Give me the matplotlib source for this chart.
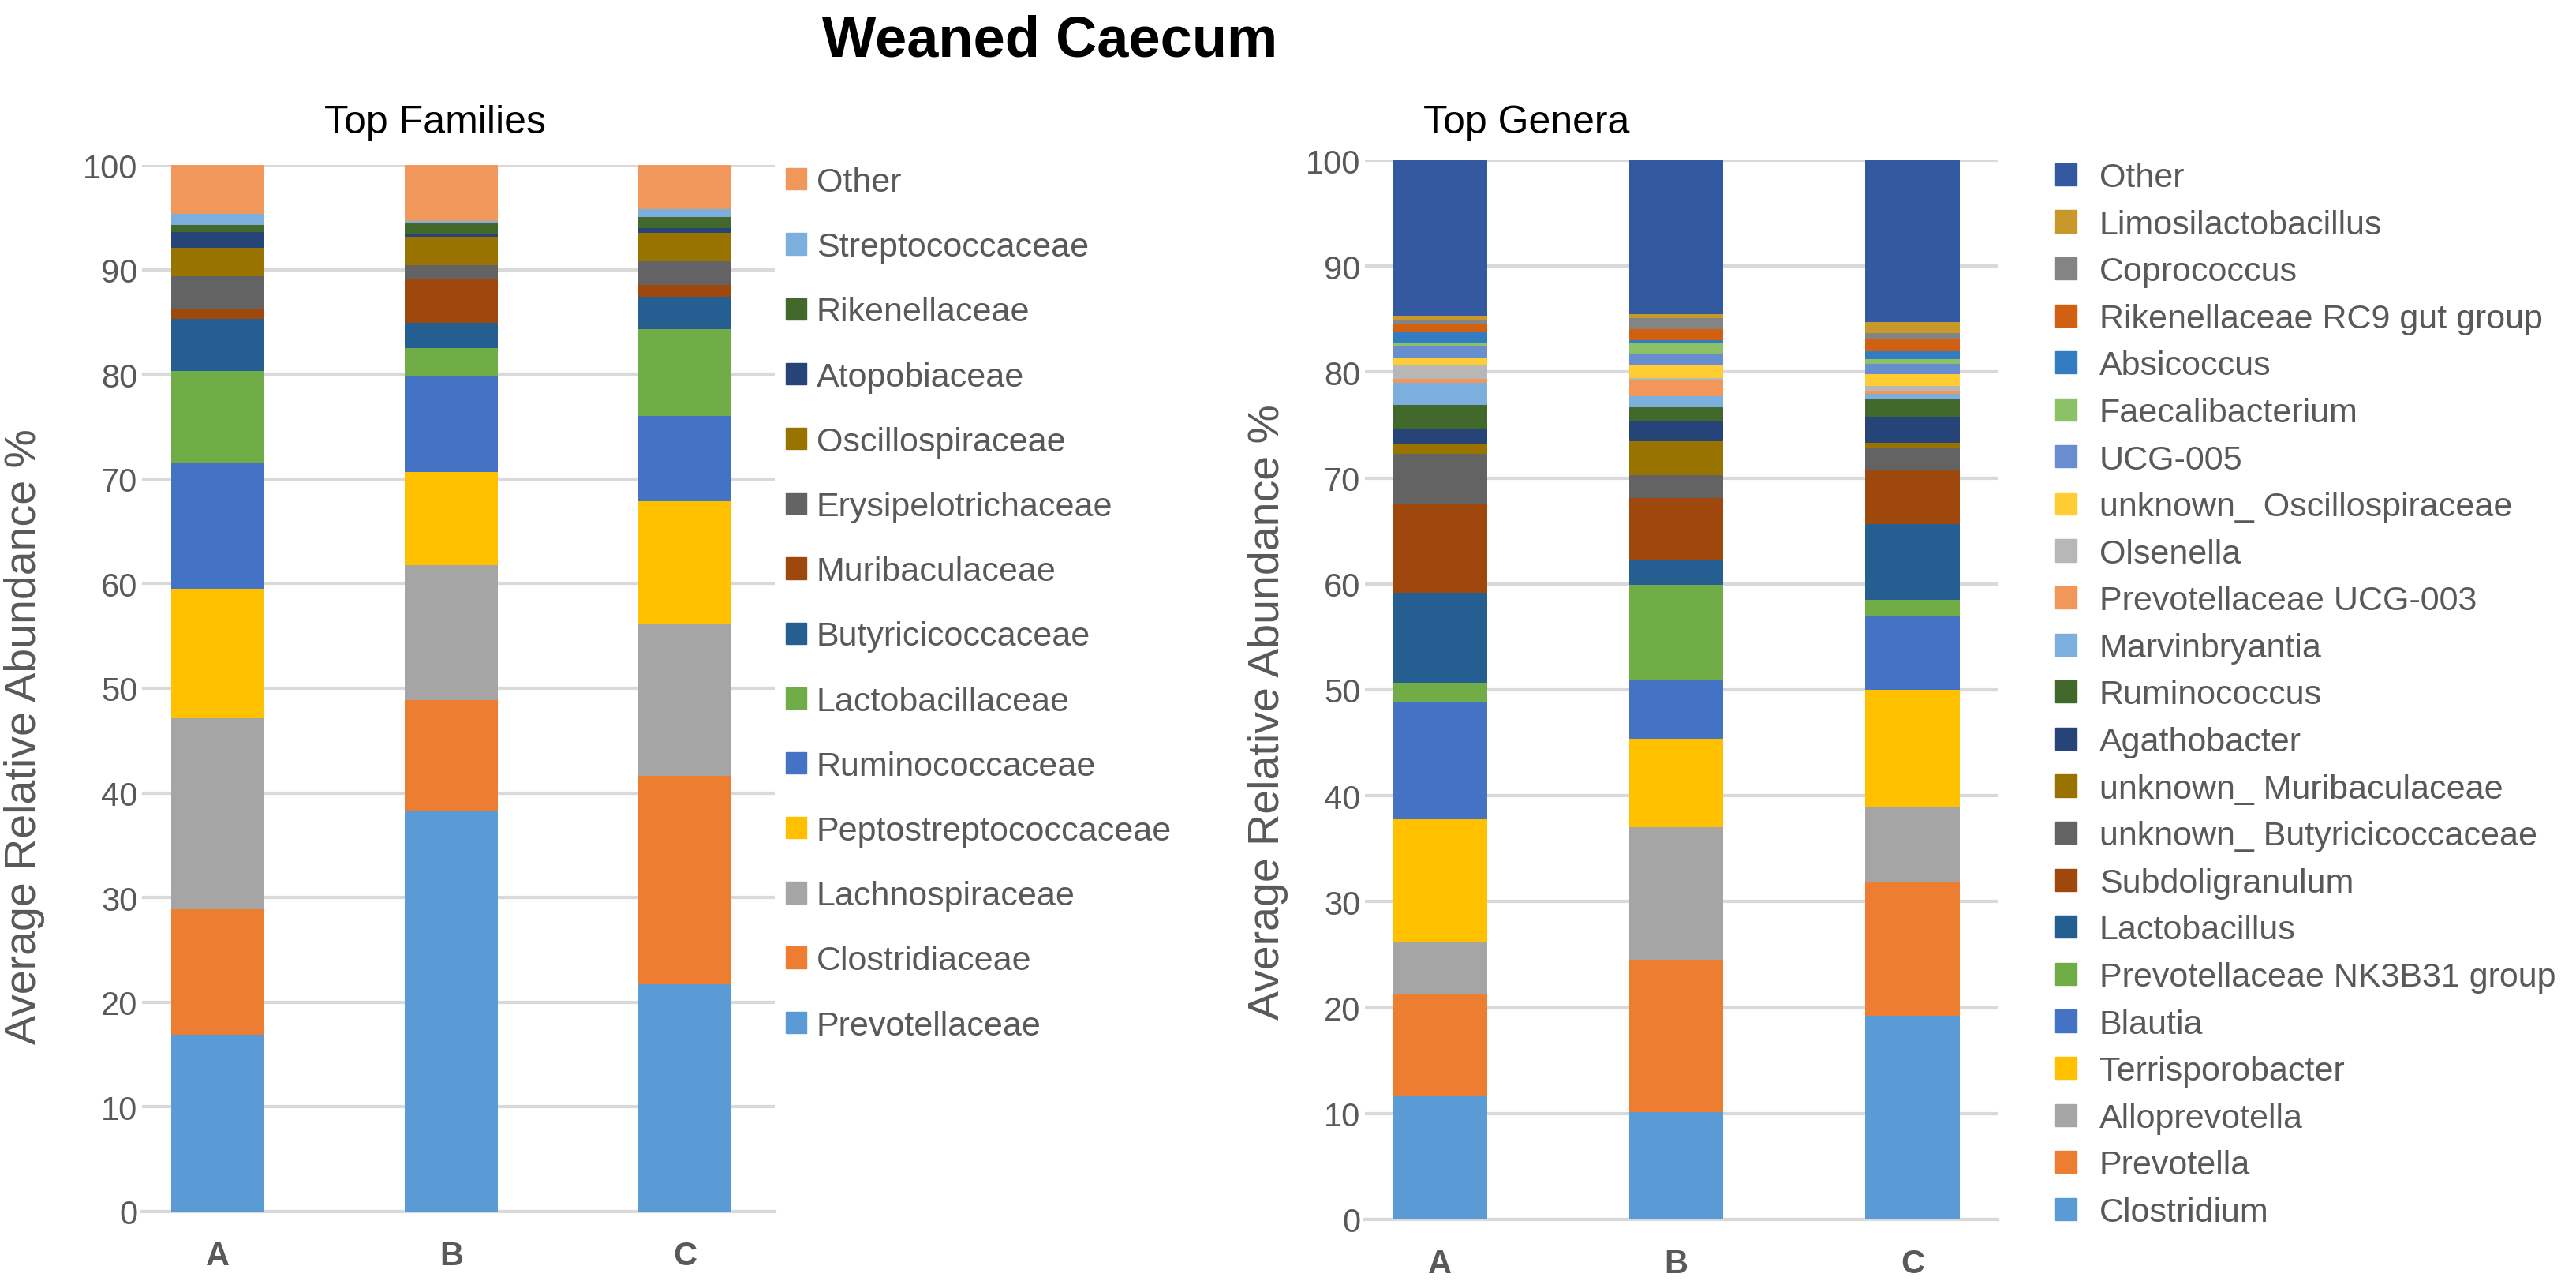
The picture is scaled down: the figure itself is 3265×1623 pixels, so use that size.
import numpy as np
import matplotlib.pyplot as plt
from matplotlib.patches import Patch

plt.rcParams['font.family'] = ['Liberation Sans', 'DejaVu Sans']

groups = ['A', 'B', 'C']

# Top families, bottom -> top of each bar
families = ['Prevotellaceae', 'Clostridiaceae', 'Lachnospiraceae', 'Peptostreptococcaceae',
            'Ruminococcaceae', 'Lactobacillaceae', 'Butyricicoccaceae', 'Muribaculaceae',
            'Erysipelotrichaceae', 'Oscillospiraceae', 'Atopobiaceae', 'Rikenellaceae',
            'Streptococcaceae', 'Other']
fam_A = [16.9, 12.0, 18.2, 12.4, 12.1, 8.7, 5.0, 1.0, 3.1, 2.7, 1.5, 0.7, 1.0, 4.7]
fam_B = [38.3, 10.6, 12.9, 8.9, 9.2, 2.6, 2.4, 4.2, 1.3, 2.7, 0.25, 1.1, 0.2, 5.35]
fam_C = [21.7, 19.9, 14.5, 11.8, 8.1, 8.3, 3.1, 1.1, 2.3, 2.7, 0.5, 1.0, 0.8, 4.2]
fam_colors = ['#5B9BD5', '#ED7D31', '#A5A5A5', '#FFC000', '#4472C4', '#70AD47', '#255E91',
              '#9E480E', '#636363', '#997300', '#264478', '#43682B', '#7CAFDD', '#F1975A']

# Top genera, bottom -> top of each bar
genera = ['Clostridium', 'Prevotella', 'Alloprevotella', 'Terrisporobacter', 'Blautia',
          'Prevotellaceae NK3B31 group', 'Lactobacillus', 'Subdoligranulum',
          'unknown_ Butyricicoccaceae', 'unknown_ Muribaculaceae', 'Agathobacter',
          'Ruminococcus', 'Marvinbryantia', 'Prevotellaceae UCG-003', 'Olsenella',
          'unknown_ Oscillospiraceae', 'UCG-005', 'Faecalibacterium', 'Absicoccus',
          'Rikenellaceae RC9 gut group', 'Coprococcus', 'Limosilactobacillus', 'Other']
gen_A = [11.7, 9.6, 4.9, 11.6, 11.0, 1.9, 8.5, 8.4, 4.65, 0.9, 1.5, 2.25, 2.1, 0.35, 1.25,
         0.8, 1.1, 0.2, 1.05, 0.75, 0.4, 0.4, 14.7]
gen_B = [10.1, 14.4, 12.5, 8.4, 5.6, 8.9, 2.4, 5.8, 2.15, 3.2, 1.85, 1.35, 1.1, 1.55, 0.15,
         1.15, 1.1, 1.1, 0.2, 1.05, 1.05, 0.35, 14.55]
gen_C = [19.2, 12.7, 7.1, 11.0, 7.0, 1.5, 7.15, 5.1, 2.1, 0.45, 2.45, 1.75, 0.45, 0.25, 0.5,
         1.1, 1.0, 0.45, 0.75, 1.1, 0.55, 1.05, 15.3]
gen_colors = ['#5B9BD5', '#ED7D31', '#A5A5A5', '#FFC000', '#4472C4', '#70AD47', '#255E91',
              '#9E480E', '#636363', '#997300', '#264478', '#43682B', '#7CAFDD', '#F1975A',
              '#B7B7B7', '#FFCD33', '#698ED0', '#8CC168', '#327DC2', '#D26012', '#848484',
              '#C8992A', '#335AA1']

TXT = '#595959'
GRID = '#D9D9D9'

fig = plt.figure(figsize=(32.65, 16.24), dpi=100)
W, H = 3265, 1624


def axes_px(x0, x1, ytop, ybot):
    return fig.add_axes([x0 / W, 1 - ybot / H, (x1 - x0) / W, (ybot - ytop) / H])


def stacked(ax, names, cols, data, xlim, label_xy):
    data = np.array(data)
    x = np.arange(len(groups))
    bottom = np.zeros(len(groups))
    for i, name in enumerate(names):
        ax.bar(x, data[:, i], 0.4, bottom=bottom, color=cols[i], label=name, zorder=3)
        bottom += data[:, i]
    ax.set_xlim(*xlim)
    ax.set_ylim(0, 100)
    ax.set_yticks(range(0, 101, 10))
    ax.set_xticks(x)
    ax.set_xticklabels(groups, fontsize=30, fontweight='bold', color=TXT)
    ax.tick_params(axis='x', length=0, pad=26)
    ax.tick_params(axis='y', length=0, pad=4, labelsize=30, labelcolor=TXT)
    ax.grid(axis='y', color=GRID, lw=3, zorder=0)
    for s in ['top', 'right', 'left']:
        ax.spines[s].set_visible(False)
    ax.spines['bottom'].set_color(GRID)
    ax.spines['bottom'].set_linewidth(3)
    ax.set_ylabel('Average Relative Abundance %', fontsize=40, color=TXT)
    ax.yaxis.set_label_coords(*label_xy)


ax1 = axes_px(180, 982, 210, 1536)
stacked(ax1, families, fam_colors, [fam_A, fam_B, fam_C], (-0.324, 2.385), (-0.153, 0.455))

ax2 = axes_px(1730, 2532, 204, 1546)
stacked(ax2, genera, gen_colors, [gen_A, gen_B, gen_C], (-0.317, 2.36), (-0.121, 0.48))

# legends, Other on top
h1 = [Patch(color=c) for c in fam_colors][::-1]
fig.legend(h1, families[::-1], loc='upper left', bbox_to_anchor=(996 / W, 1 - 212 / H),
           frameon=False, fontsize=31, labelcolor=TXT, labelspacing=0.98,
           handlelength=0.6, handleheight=0.6, handletextpad=0.3, borderpad=0,
           borderaxespad=0)

h2 = [Patch(color=c) for c in gen_colors][::-1]
fig.legend(h2, genera[::-1], loc='upper left', bbox_to_anchor=(2605 / W, 1 - 206 / H),
           frameon=False, fontsize=31, labelcolor=TXT, labelspacing=0.455,
           handlelength=0.63, handleheight=0.63, handletextpad=0.66, borderpad=0,
           borderaxespad=0)

fig.text(551 / W, 1 - 156 / H, 'Top Families', fontsize=36, ha='center', va='center')
fig.text(1935 / W, 1 - 156 / H, 'Top Genera', fontsize=36, ha='center', va='center')
fig.text(1331 / W, 1 - 52 / H, 'Weaned Caecum', fontsize=52, fontweight='bold',
         ha='center', va='center')

fig.savefig('out.png', dpi=100)
